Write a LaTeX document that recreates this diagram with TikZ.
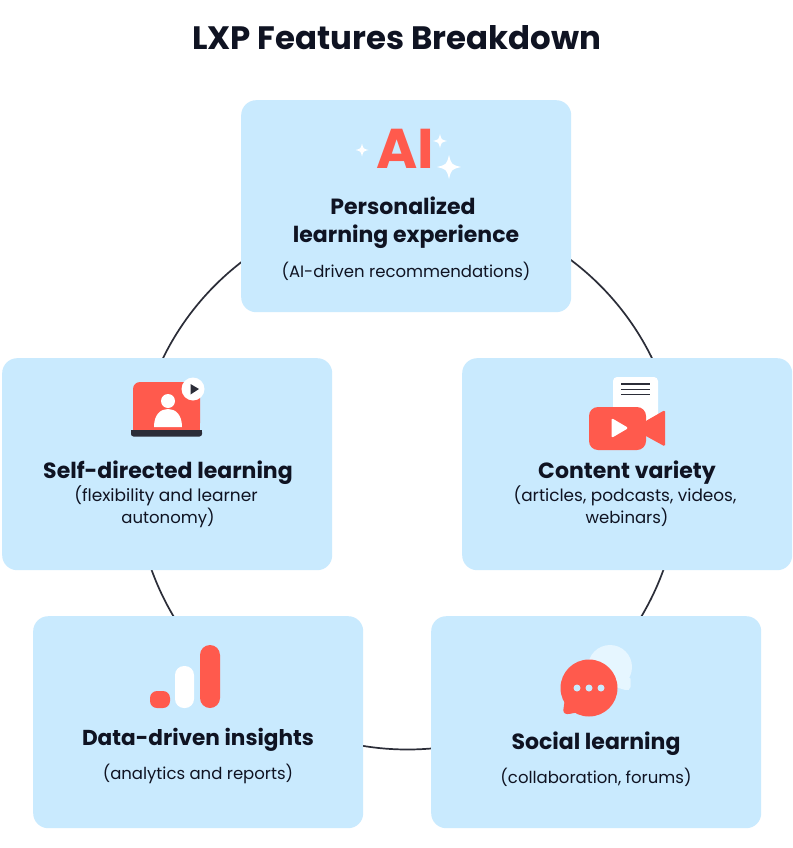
\documentclass[tikz,border=0pt]{standalone}
\usepackage{fontspec}
\setmainfont{Poppins}
\usetikzlibrary{calc}
\definecolor{boxblue}{HTML}{C9EAFE}
\definecolor{redc}{HTML}{FF5A4D}
\definecolor{darkc}{HTML}{2B2D38}
\definecolor{inkc}{HTML}{0F1322}
\definecolor{palec}{HTML}{E6F6FF}
\newcommand{\sparkle}[3]{\fill[white] ($(#1,#2)+(-#3,0)$) .. controls ($(#1,#2)+(-0.2*#3,0.2*#3)$) .. ($(#1,#2)+(0,#3)$) .. controls ($(#1,#2)+(0.2*#3,0.2*#3)$) .. ($(#1,#2)+(#3,0)$) .. controls ($(#1,#2)+(0.2*#3,-0.2*#3)$) .. ($(#1,#2)+(0,-#3)$) .. controls ($(#1,#2)+(-0.2*#3,-0.2*#3)$) .. cycle;}
\tikzset{
  card/.style={fill=boxblue,rounded corners=15pt,minimum width=330pt,minimum height=212pt,inner sep=0pt,anchor=north west},
  ringline/.style={draw=darkc,line width=1.7pt,circle,minimum size=544pt,inner sep=0pt},
  head/.style={text=inkc,font=\fontsize{22}{26}\selectfont\bfseries,inner sep=0pt,anchor=base},
  sub/.style={text=inkc,font=\fontsize{16.5}{22}\selectfont,inner sep=0pt,anchor=base},
  titlet/.style={text=inkc,font=\fontsize{32.4}{38}\selectfont\bfseries,inner sep=0pt},
}
\begin{document}
\begin{tikzpicture}[x=1pt,y=-1pt]
\useasboundingbox (0,0) rectangle (792,848);
\fill[white] (0,0) rectangle (792,848);
\node[ringline] (ring) at (407.5,477.5) {};
\node[card] (top) at (241,100) {};
\node[card] (left) at (2,358) {};
\node[card] (right) at (462,358) {};
\node[card] (bl) at (33,616) {};
\node[card] (br) at (431,616) {};
\node[titlet] (title) at (396.5,38) {LXP Features Breakdown};
% top
\node[text=redc,font=\fontsize{56}{60}\selectfont\bfseries,inner sep=0pt,anchor=base] (ai) at (405,168) {AI};
\sparkle{362}{150}{6.5}
\sparkle{440}{141}{7}
\sparkle{449}{167}{12}
\node[head] (t1) at (403,214) {Personalized};
\node[head] (t2) at (406,242.5) {learning experience};
\node[sub] (t3) at (406,277) {(AI-driven recommendations)};
% left
\fill[redc,rounded corners=7pt] (133,430) -- (133,382) -- (200,382) -- (200,430) -- cycle;
\fill[redc] (133,420) rectangle (200,431);
\fill[darkc,rounded corners=2.5pt] (131,430) rectangle (202,436.5);
\fill[darkc] (131,430) rectangle (202,433);
\fill[white] (168,401) circle (7);
\fill[white] (154,427) .. controls (154,414) and (161,409) .. (168,409) .. controls (175,409) and (182,414) .. (182,427) -- cycle;
\fill[white] (193,389) circle (11.5);
\fill[darkc] (190.5,384) -- (199,389) -- (190.5,394.5) -- cycle;
\node[head] (l1) at (168,478) {Self-directed learning};
\node[sub,font=\fontsize{17}{22}\selectfont] (l2) at (166,501) {(flexibility and learner};
\node[sub] (l3) at (168,523) {autonomy)};
% right
\fill[white,rounded corners=4pt] (613,377) rectangle (658,425);
\foreach \yy in {384,389.5,394.5} \draw[darkc,line width=1.9pt] (621,\yy) -- (650,\yy);
\fill[redc,rounded corners=9pt] (589,407) rectangle (646,450);
\fill[redc,rounded corners=1.5pt] (645,421.5) -- (665,410) -- (665,446.5) -- (645,435.5) -- cycle;
\fill[white,rounded corners=1.5pt] (611.5,418) -- (628.5,428) -- (611.5,438) -- cycle;
\node[head] (r1) at (627,478) {Content variety};
\node[sub,font=\fontsize{16.9}{22}\selectfont] (r2) at (625,501) {(articles, podcasts, videos,};
\node[sub] (r3) at (627,523) {webinars)};
% bottom left
\fill[redc,rounded corners=7pt] (150,691) rectangle (170,708);
\fill[white,rounded corners=9pt] (175,666) rectangle (194,708);
\fill[redc,rounded corners=10pt] (200,645) rectangle (220,708);
\node[head,font=\fontsize{21.6}{26}\selectfont\bfseries] (b1) at (198,745) {Data-driven insights};
\node[sub] (b2) at (198,779) {(analytics and reports)};
% bottom right
\fill[palec] (610,667) circle (22);
\fill[palec,rounded corners=2pt] (618,680) -- (630.5,677) -- (630.5,689) -- (627,690.5) -- (612,686) -- cycle;
\fill[redc] (589,688) circle (28.5);
\fill[redc,rounded corners=2.5pt] (565,698) -- (563,712.5) -- (567,714.5) -- (576,712.5) -- (588,716) -- (575,700) -- cycle;
\foreach \xx in {577,589,601} \fill[boxblue] (\xx,688) circle (3.5);
\node[head] (s1) at (596,749) {Social learning};
\node[sub] (s2) at (596,783) {(collaboration, forums)};
\end{tikzpicture}
\end{document}
